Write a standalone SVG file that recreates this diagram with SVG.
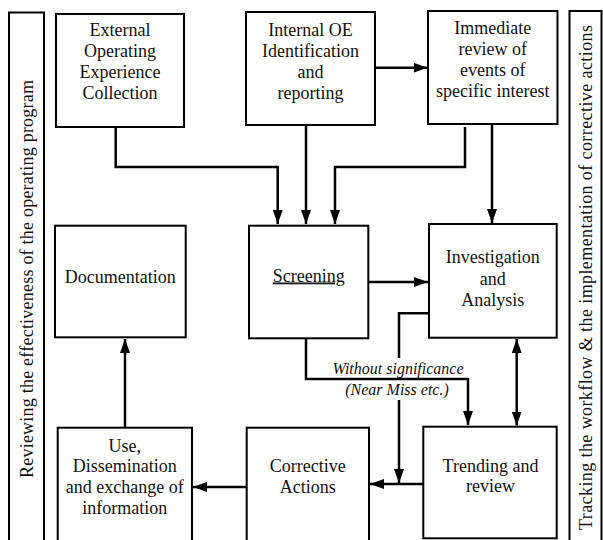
<svg xmlns="http://www.w3.org/2000/svg" width="603" height="540" viewBox="0 0 603 540">
<style>
.box{fill:#fff;stroke:#000;stroke-width:2}
.t{font-family:'Liberation Serif','DejaVu Serif',serif;font-size:18px;fill:#111;text-anchor:middle}
.lbl{font-family:'Liberation Serif','DejaVu Serif',serif;font-size:16px;font-style:italic;fill:#111;text-anchor:middle}
.c{fill:none;stroke:#000;stroke-width:2.5}
.a{marker-end:url(#arr)}
</style>
<defs>
<marker id="arr" viewBox="0 0 14 10" refX="14" refY="5" markerWidth="14" markerHeight="10" markerUnits="userSpaceOnUse" orient="auto-start-reverse">
<path d="M0,0 L14,5 L0,10 Z" fill="#000"/>
</marker>
</defs>
<rect width="603" height="540" fill="#fff"/>

<g id="side-left">
<rect class="box" x="9" y="12.5" width="35" height="535"/>
<text class="t" transform="translate(33,279) rotate(-90)" x="0" y="0" textLength="398" lengthAdjust="spacing">Reviewing the effectiveness of the operating program</text>
</g>
<g id="side-right">
<rect class="box" x="569.5" y="11" width="32" height="535"/>
<text class="t" transform="translate(592,277.5) rotate(-90)" x="0" y="0" textLength="505" lengthAdjust="spacing">Tracking the workflow &amp; the implementation of corrective actions</text>
</g>

<g id="external">
<rect class="box" x="56" y="14" width="128" height="113"/>
<text class="t" x="120" y="36">External</text>
<text class="t" x="120" y="57">Operating</text>
<text class="t" x="120" y="78">Experience</text>
<text class="t" x="120" y="99">Collection</text>
</g>
<g id="internal">
<rect class="box" x="246" y="12" width="129" height="113"/>
<text class="t" x="310.5" y="36">Internal OE</text>
<text class="t" x="310.5" y="57">Identification</text>
<text class="t" x="310.5" y="78">and</text>
<text class="t" x="310.5" y="99">reporting</text>
</g>
<g id="immediate">
<rect class="box" x="428" y="11" width="129.5" height="113"/>
<text class="t" x="492.7" y="34">Immediate</text>
<text class="t" x="492.7" y="55">review of</text>
<text class="t" x="492.7" y="76">events of</text>
<text class="t" x="492.7" y="97">specific interest</text>
</g>
<g id="documentation">
<rect class="box" x="55" y="225.7" width="130.7" height="111.6"/>
<text class="t" x="120.3" y="283">Documentation</text>
</g>
<g id="screening">
<rect class="box" x="249" y="225.7" width="119.3" height="112.6"/>
<text class="t" x="308.7" y="281.5" text-decoration="underline">Screening</text>
</g>
<g id="investigation">
<rect class="box" x="429" y="224" width="127.7" height="113.7"/>
<text class="t" x="492.8" y="263">Investigation</text>
<text class="t" x="492.8" y="284.5">and</text>
<text class="t" x="492.8" y="306">Analysis</text>
</g>
<g id="use">
<rect class="box" x="57.7" y="427.7" width="134.3" height="120"/>
<text class="t" x="124.8" y="451.5">Use,</text>
<text class="t" x="124.8" y="472.3">Dissemination</text>
<text class="t" x="124.8" y="493">and exchange of</text>
<text class="t" x="124.8" y="514">information</text>
</g>
<g id="corrective">
<rect class="box" x="246.7" y="427.7" width="122.3" height="120"/>
<text class="t" x="307.8" y="472.3">Corrective</text>
<text class="t" x="307.8" y="493">Actions</text>
</g>
<g id="trending">
<rect class="box" x="423.3" y="426.7" width="133.4" height="111.6"/>
<text class="t" x="490.5" y="471.7">Trending and</text>
<text class="t" x="490.5" y="492">review</text>
</g>

<g id="connectors">
<path class="c a" d="M115.7,127 V167 H277.7 V224"/>
<path class="c a" d="M306,125 V224"/>
<path class="c a" d="M465,127 V167 H335 V224"/>
<path class="c a" d="M492,124 V223"/>
<path class="c a" d="M375,67.7 H427.5"/>
<path class="c a" d="M368.3,282 H428"/>
<path class="c" d="M429,313.3 H399 V358"/>
<path class="c a" d="M399,400 V483"/>
<path class="c a" d="M306,338.3 V379 H468 V425"/>
<path class="c a" d="M516.7,339 V425.5" marker-start="url(#arr)"/>
<path class="c a" d="M423.3,484 H370"/>
<path class="c a" d="M246.7,487 H193"/>
<path class="c a" d="M125,427.7 V339"/>
<text class="lbl" x="398" y="374">Without significance</text>
<text class="lbl" x="397" y="395">(Near Miss etc.)</text>
</g>
</svg>
